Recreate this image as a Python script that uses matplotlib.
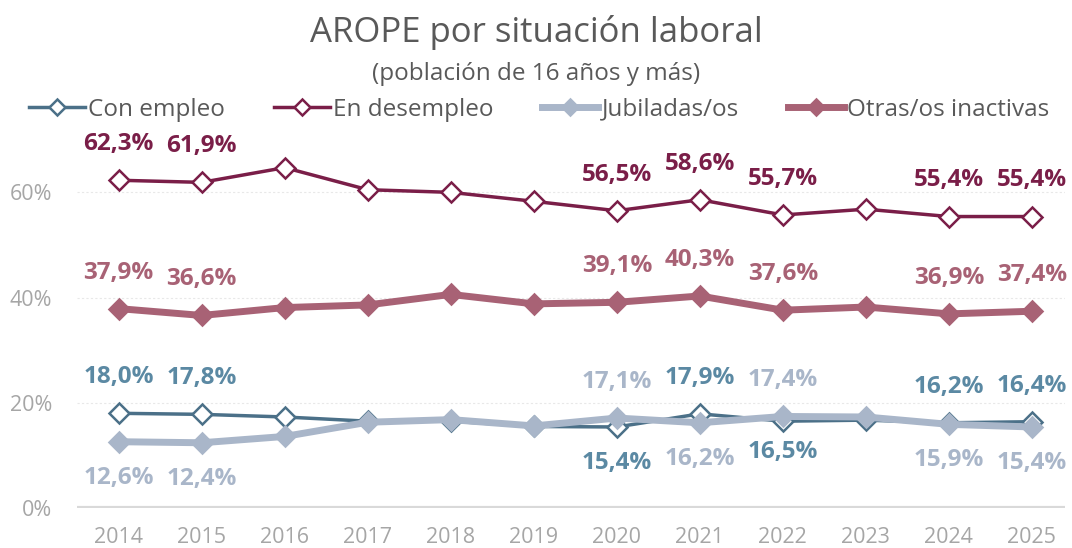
import numpy as np
import matplotlib.pyplot as plt

plt.rcParams['font.family'] = ['Open Sans', 'DejaVu Sans']

years = ['2014', '2015', '2016', '2017', '2018', '2019', '2020', '2021', '2022', '2023', '2024', '2025']
con_empleo = [18.0, 17.8, 17.3, 16.5, 16.5, 15.5, 15.4, 17.9, 16.5, 16.7, 16.2, 16.4]
en_desempleo = [62.3, 61.9, 64.7, 60.5, 60.0, 58.3, 56.5, 58.6, 55.7, 56.8, 55.4, 55.4]
jubiladas = [12.6, 12.4, 13.6, 16.3, 16.8, 15.6, 17.1, 16.2, 17.4, 17.3, 15.9, 15.4]
otras = [37.9, 36.6, 38.1, 38.6, 40.6, 38.8, 39.1, 40.3, 37.6, 38.2, 36.9, 37.4]

x = np.arange(len(years))

fig = plt.figure(figsize=(10.72, 5.48), dpi=100)
ax = fig.add_axes([0.072, 0.073, 0.9216, 0.672])

# series: datos, color linea, color etiqueta, grosor, relleno, etiquetas (indice, +arriba/-abajo)
series = [
    ('Con empleo', con_empleo, '#4B7088', '#5B89A3', 2.5, 'white',
     {0: 1, 1: 1, 6: -1, 7: 1, 8: -0.85, 10: 1, 11: 1}),
    ('En desempleo', en_desempleo, '#7A1E48', '#7A1E48', 2.5, 'white',
     {0: 1, 1: 1, 6: 1, 7: 1, 8: 1, 10: 1, 11: 1}),
    ('Jubiladas/os', jubiladas, '#A9B6C9', '#A9B6C9', 5, '#A9B6C9',
     {0: -1, 1: -1, 6: 1, 7: -1, 8: 1, 10: -1, 11: -1}),
    ('Otras/os inactivas', otras, '#A86275', '#A86275', 5, '#A86275',
     {0: 1, 1: 1, 6: 1, 7: 1, 8: 1, 10: 1, 11: 1}),
]

for name, vals, col, lcol, lw, fc, labs in series:
    ax.plot(x, vals, color=col, lw=lw, marker='D', markersize=10,
            markerfacecolor=fc, markeredgecolor=col, markeredgewidth=1.8,
            label=name, solid_joinstyle='round', zorder=3)
    for i, d in labs.items():
        ax.annotate(f'{vals[i]:.1f}%'.replace('.', ','), (x[i], vals[i]),
                    xytext=(0, 26 * d), textcoords='offset points',
                    ha='center', va='center', fontsize=17.5, fontweight='bold',
                    color=lcol, zorder=4)

ax.set_xlim(-0.5, 11.4)
ax.set_ylim(0, 70)
ax.set_yticks([0, 20, 40, 60])
ax.set_yticklabels(['0%', '20%', '40%', '60%'])
ax.set_xticks(x)
ax.set_xticklabels(years)
ax.tick_params(axis='both', length=0, labelsize=15.5, labelcolor='#A6A6A6')
ax.tick_params(axis='x', pad=14)
ax.tick_params(axis='y', pad=18)

for g in [20, 40, 60]:
    ax.axhline(g, color='#E8E8E8', lw=0.8, ls=(0, (2, 2)), zorder=1)
ax.axhline(0, color='#D9D9D9', lw=3, zorder=2)
for s in ax.spines.values():
    s.set_visible(False)

fig.text(0.5, 0.94, 'AROPE por situación laboral', ha='center', va='center',
         fontsize=25, color='#595959')
fig.text(0.5, 0.865, '(población de 16 años y más)', ha='center', va='center',
         fontsize=17.5, color='#595959')

leg = fig.legend(loc='center', bbox_to_anchor=(0.503, 0.8), ncol=4, frameon=False,
                 fontsize=17.5, handlelength=2.3, columnspacing=2.0, handletextpad=0.15,
                 markerscale=0.85)
for t in leg.get_texts():
    t.set_color('#595959')

plt.savefig('out.png', dpi=100)
